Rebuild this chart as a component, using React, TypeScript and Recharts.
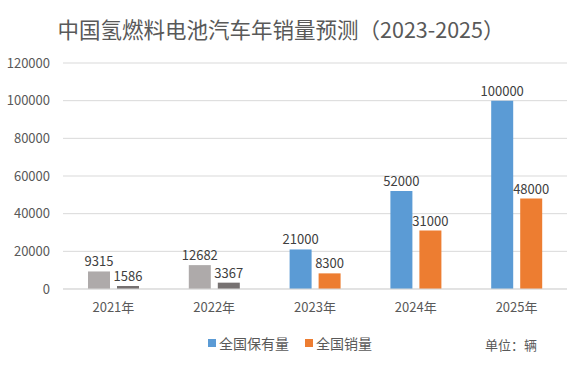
import { BarChart, Bar, XAxis, YAxis, CartesianGrid, Cell, LabelList } from "recharts";

const years = ["2021年", "2022年", "2023年", "2024年", "2025年"];
const stock = [9315, 12682, 21000, 52000, 100000];
const sales = [1586, 3367, 8300, 31000, 48000];
const yTicks = [0, 20000, 40000, 60000, 80000, 100000, 120000];
// actual years drawn in grey, forecast years in colour
const isHistory = [true, true, false, false, false];

const data = years.map((year, i) => ({ year, stock: stock[i], sales: sales[i] }));

const FONT = "'Noto Sans CJK SC', 'Noto Sans', sans-serif";

export default function App() {
  return (
    <div style={{ position: "absolute", left: 0, top: 0, width: 577, height: 384, background: "#fff", fontFamily: FONT }}>
      <div style={{ position: "absolute", top: 13, left: 0, width: 562, textAlign: "center", fontSize: 21.5, color: "#595959" }}>
        中国氢燃料电池汽车年销量预测（2023-2025）
      </div>
      <BarChart
        width={577}
        height={384}
        data={data}
        margin={{ top: 63, right: 10, bottom: 65, left: 0 }}
        barSize={22}
        barGap={7}
      >
        <CartesianGrid vertical={false} stroke="#d9d9d9" />
        <XAxis
          dataKey="year"
          height={30}
          tickLine={false}
          axisLine={{ stroke: "#d9d9d9" }}
          tick={{ fontSize: 13, fill: "#595959", fontFamily: FONT }}
          tickMargin={8}
        />
        <YAxis
          width={63}
          domain={[0, 120000]}
          ticks={yTicks}
          axisLine={false}
          tickLine={false}
          tickMargin={7}
          tick={{ fontSize: 13, fill: "#595959", fontFamily: FONT }}
        />
        <Bar dataKey="stock" fill="#5b9bd5" isAnimationActive={false}>
          {data.map((d, i) => (
            <Cell key={d.year} fill={isHistory[i] ? "#aeaaaa" : "#5b9bd5"} />
          ))}
          <LabelList dataKey="stock" position="top" offset={5} fill="#404040" fontSize={13} fontFamily={FONT} />
        </Bar>
        <Bar dataKey="sales" fill="#ed7d31" isAnimationActive={false}>
          {data.map((d, i) => (
            <Cell key={d.year} fill={isHistory[i] ? "#767171" : "#ed7d31"} />
          ))}
          <LabelList dataKey="sales" position="top" offset={5} fill="#404040" fontSize={13} fontFamily={FONT} />
        </Bar>
      </BarChart>
      <div style={{ position: "absolute", top: 333, left: 208, display: "flex", alignItems: "center", fontSize: 14, color: "#595959" }}>
        <span style={{ width: 8, height: 8, background: "#5b9bd5", marginRight: 3 }} />
        <span style={{ marginRight: 16 }}>全国保有量</span>
        <span style={{ width: 8, height: 8, background: "#ed7d31", marginRight: 3 }} />
        <span>全国销量</span>
      </div>
      <div style={{ position: "absolute", top: 335, left: 485, fontSize: 13, color: "#595959" }}>单位：辆</div>
    </div>
  );
}
